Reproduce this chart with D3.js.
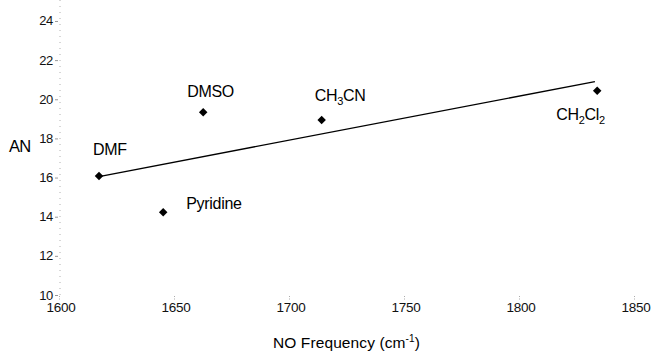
<!DOCTYPE html>
<html><head><meta charset="utf-8">
<script src="https://cdn.jsdelivr.net/npm/d3@7/dist/d3.min.js"></script>
<style>
html,body{margin:0;padding:0;background:#fff;}
svg{display:block;font-family:"Liberation Sans",Arial,sans-serif;}
</style></head>
<body>
<svg id="c" width="651" height="352"></svg>
<script>
// Data
const solvents = ["DMF", "Pyridine", "DMSO", "CH3CN", "CH2Cl2"];
const noFreq = [1617.4, 1645.3, 1662.7, 1714.2, 1834.0];
const acceptorNumber = [16.08, 14.23, 19.34, 18.94, 20.44];
const trendFreq = [1617.4, 1833.0];
const trendAN = [16.05, 20.90];
const xTicks = [1600, 1650, 1700, 1750, 1800, 1850];
const yTicks = [10, 12, 14, 16, 18, 20, 22, 24];

// label parts: [text, kind] kind: n normal, s subscript
const labelParts = {
  "DMF": [["DMF","n"]],
  "Pyridine": [["Pyridine","n"]],
  "DMSO": [["DMSO","n"]],
  "CH3CN": [["CH","n"],["3","s"],["CN","n"]],
  "CH2Cl2": [["CH","n"],["2","s"],["Cl","n"],["2","s"]]
};
const labelOffset = {
  "DMF": [-6, -21],
  "Pyridine": [23, -3],
  "DMSO": [-16, -15],
  "CH3CN": [-7, -19],
  "CH2Cl2": [-41, 29]
};

const svg = d3.select("#c");
const x = d3.scaleLinear().domain([1600, 1850]).range([59, 634]);
const y = d3.scaleLinear().domain([10, 25]).range([295, 1.4]);

// y axis dotted line
svg.append("line")
  .attr("x1", 60).attr("x2", 60).attr("y1", 0).attr("y2", 297)
  .attr("stroke", "#b0b0b0").attr("stroke-width", 1)
  .attr("stroke-dasharray", "1,5");

const yAxis = svg.append("g");
yAxis.selectAll("line").data(yTicks).join("line")
  .attr("x1", 55).attr("x2", 58)
  .attr("y1", d => y(d) + 0.5).attr("y2", d => y(d) + 0.5)
  .attr("stroke", "#999").attr("stroke-width", 1);
yAxis.selectAll("text").data(yTicks).join("text")
  .attr("x", 53).attr("y", d => y(d) + 4.5)
  .attr("text-anchor", "end")
  .attr("font-size", 13).attr("fill", "#111")
  .attr("letter-spacing", -0.3)
  .text(d => d);

const xAxis = svg.append("g");
xAxis.selectAll("line").data(xTicks).join("line")
  .attr("x1", d => x(d) + 0.5).attr("x2", d => x(d) + 0.5)
  .attr("y1", 296).attr("y2", 300)
  .attr("stroke", "#aaa").attr("stroke-width", 1)
  .attr("stroke-dasharray", "1,1.5");
xAxis.selectAll("text").data(xTicks).join("text")
  .attr("x", d => x(d) + 2).attr("y", 312)
  .attr("text-anchor", "middle")
  .attr("font-size", 13.5).attr("fill", "#111")
  .attr("letter-spacing", -0.3)
  .text(d => d);

// trend line
svg.append("path")
  .datum(trendFreq.map((f, i) => [f, trendAN[i]]))
  .attr("d", d3.line().x(d => x(d[0])).y(d => y(d[1])))
  .attr("fill", "none").attr("stroke", "#000").attr("stroke-width", 1.4);

// points
const pts = solvents.map((s, i) => ({s, f: noFreq[i], a: acceptorNumber[i]}));
svg.selectAll(".pt").data(pts).join("path")
  .attr("class", "pt")
  .attr("d", d3.symbol().type(d3.symbolSquare).size(36))
  .attr("transform", d => `translate(${x(d.f)},${y(d.a)}) rotate(45)`)
  .attr("fill", "#000");

// labels
pts.forEach(d => {
  const off = labelOffset[d.s];
  const t = svg.append("text")
    .attr("x", x(d.f) + off[0]).attr("y", y(d.a) + off[1])
    .attr("font-size", 16).attr("fill", "#000")
    .attr("letter-spacing", -0.3);
  let shift = 0;
  labelParts[d.s].forEach(([txt, kind]) => {
    const target = kind === "s" ? 4 : 0;
    const ts = t.append("tspan").text(txt).attr("dy", target - shift);
    if (kind === "s") ts.attr("font-size", 11);
    shift = target;
  });
});

// axis titles
svg.append("text")
  .attr("x", 9).attr("y", 152)
  .attr("font-size", 16.5).attr("fill", "#000")
  .attr("letter-spacing", -0.8)
  .text("AN");

const title = svg.append("text")
  .attr("x", 273).attr("y", 347.5)
  .attr("font-size", 15.5).attr("fill", "#000")
  .attr("letter-spacing", 0.1);
title.append("tspan").text("NO Frequency (cm");
title.append("tspan").attr("font-size", 10).attr("dy", -6).text("-1");
title.append("tspan").attr("dy", 6).text(")");
</script>
</body></html>
